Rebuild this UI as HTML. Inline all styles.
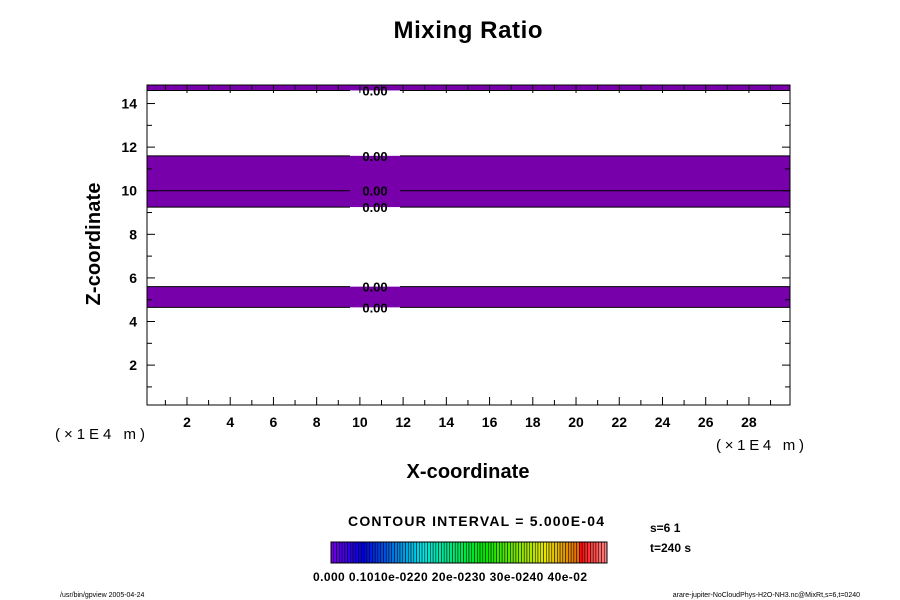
<!DOCTYPE html>
<html><head><meta charset="utf-8"><style>
body{margin:0;background:#fff}
svg{display:block;font-family:"Liberation Sans",sans-serif}
</style></head><body>
<svg id="c" width="900" height="600" xmlns="http://www.w3.org/2000/svg">
<text x="468" y="38" font-size="24" font-weight="bold" text-anchor="middle" textLength="149">Mixing Ratio</text>
<g id="bands"></g>
<g id="axes"></g>
<text x="468" y="478" font-size="20" font-weight="bold" text-anchor="middle" textLength="123">X-coordinate</text>
<text transform="translate(100,244) rotate(-90)" font-size="20" font-weight="bold" text-anchor="middle" textLength="123">Z-coordinate</text>
<text x="55" y="439" font-size="15" textLength="90">(×1E4 m)</text>
<text x="716" y="450" font-size="15" textLength="88">(×1E4 m)</text>
<text x="348" y="526" font-size="14" font-weight="bold" textLength="256">CONTOUR INTERVAL = 5.000E-04</text>
<text x="650" y="532" font-size="12" font-weight="bold">s=6 1</text>
<text x="650" y="552" font-size="12" font-weight="bold">t=240 s</text>
<g id="cbar"></g>
<text x="313" y="581" font-size="12" font-weight="bold" textLength="274">0.000 0.1010e-0220 20e-0230 30e-0240 40e-02</text>
<text x="60" y="597" font-size="7">/usr/bin/gpview 2005-04-24</text>
<text x="860" y="597" font-size="7" text-anchor="end">arare-jupiter-NoCloudPhys-H2O-NH3.nc@MixRt,s=6,t=0240</text>
</svg>
<script>
const xTicks=[2,4,6,8,10,12,14,16,18,20,22,24,26,28];
const zTicks=[2,4,6,8,10,12,14];
const bandLow=[14.6,9.25,4.65];
const bandHigh=[14.9,11.6,5.6];
const contourLevels=[14.6,11.6,10.0,9.25,5.6,4.65];
const X0=147,X1=790,Y0=405,Y1=85,xmin=0.15,xmax=29.9,zmin=0.17,zmax=14.85;
const sx=v=>X0+(v-xmin)/(xmax-xmin)*(X1-X0);
const sz=v=>Y0-(v-zmin)/(zmax-zmin)*(Y0-Y1);
const NS="http://www.w3.org/2000/svg";
function mk(t,a,p){const e=document.createElementNS(NS,t);for(const k in a)e.setAttribute(k,a[k]);p.appendChild(e);return e;}
const B=document.getElementById('bands');
bandLow.forEach((lo,i)=>{const top=Math.max(sz(bandHigh[i]),Y1);
const r=mk('rect',{x:X0,y:top,width:X1-X0,height:sz(lo)-top,fill:'#7700aa'},B);

});
contourLevels.forEach((lv,i)=>{const y=sz(lv);
const l1=mk('line',{x1:X0,x2:350,y1:y,y2:y,stroke:'#000','stroke-width':1},B);


const l2=mk('line',{x1:400,x2:X1,y1:y,y2:y,stroke:'#000','stroke-width':1},B);


const t=mk('text',{x:375,y:y+5,'font-size':13,'font-weight':'bold','text-anchor':'middle'},B);
t.textContent='0.00';

});
const A=document.getElementById('axes');
mk('rect',{x:X0,y:Y1,width:X1-X0,height:Y0-Y1,fill:'none',stroke:'#000','stroke-width':1},A);
for(let v=1;v<30;v++){const x=sx(v);const L=v%2?5:8;
mk('line',{x1:x,x2:x,y1:Y0,y2:Y0-L,stroke:'#000'},A);mk('line',{x1:x,x2:x,y1:Y1,y2:Y1+L,stroke:'#000'},A);}
for(let v=1;v<15;v++){const y=sz(v);const L=v%2?5:8;
mk('line',{x1:X0,x2:X0+L,y1:y,y2:y,stroke:'#000'},A);mk('line',{x1:X1,x2:X1-L,y1:y,y2:y,stroke:'#000'},A);}
xTicks.forEach(v=>{const t=mk('text',{x:sx(v),y:427,'font-size':14,'font-weight':'bold','text-anchor':'middle'},A);t.textContent=v;

});
zTicks.forEach(v=>{const t=mk('text',{x:137,y:sz(v)+5,'font-size':14,'font-weight':'bold','text-anchor':'end'},A);t.textContent=v;

});
const C=document.getElementById('cbar');const n=100,cx=331,cw=276/n;
for(let i=0;i<n;i++){const f=i/(n-1);let h=270-f*270;let light=45;
if(f>0.9){h=0;light=50+(f-0.9)*250;}
const r=mk('rect',{x:cx+i*cw,y:542,width:cw,height:21,fill:`hsl(${h},100%,${light}%)`,stroke:'#000','stroke-width':0.5},C);

}
mk('rect',{x:cx,y:542,width:276,height:21,fill:'none',stroke:'#000'},C);
</script>
</body></html>
